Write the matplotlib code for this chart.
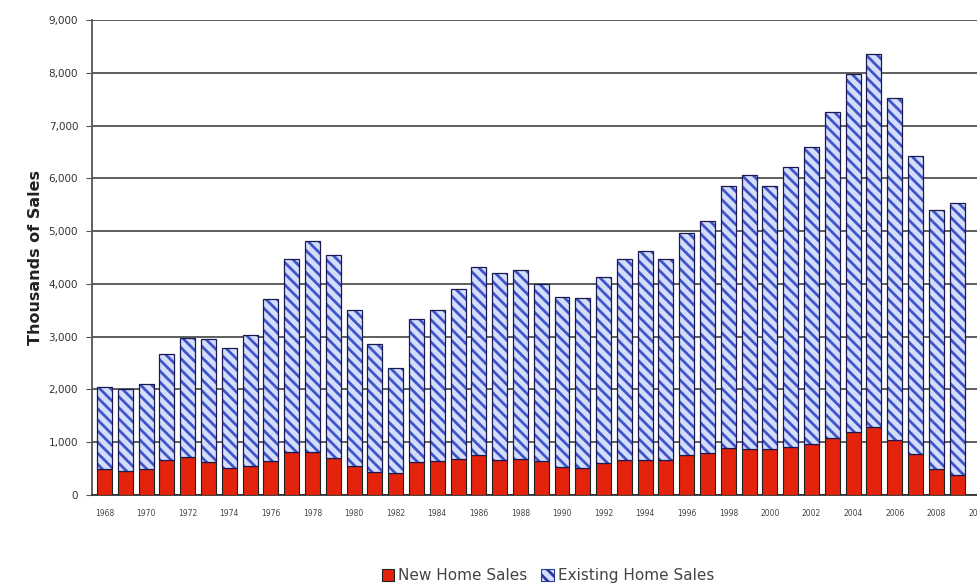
import numpy as np
import matplotlib
matplotlib.use("Agg")
import matplotlib.pyplot as plt
from matplotlib.patches import Patch

years = list(range(1968, 2010))
new_sales = [490, 448, 485, 656, 718, 634, 519, 549, 646, 819,
             817, 709, 545, 436, 412, 623, 639, 688, 750, 671,
             676, 650, 534, 509, 610, 666, 670, 667, 757, 804,
             886, 880, 877, 908, 973, 1086, 1203, 1283, 1051, 776,
             485, 375]
existing_sales = [1560, 1570, 1610, 2020, 2250, 2330, 2270, 2480, 3060, 3650,
                  3990, 3830, 2970, 2420, 1990, 2720, 2870, 3210, 3570, 3530,
                  3590, 3350, 3210, 3220, 3520, 3800, 3950, 3810, 4200, 4380,
                  4970, 5180, 4980, 5300, 5630, 6180, 6780, 7080, 6480, 5650,
                  4910, 5160]
tick_years = list(range(1968, 2011, 2))
y_ticks = list(range(0, 9001, 1000))

plt.rcParams['hatch.linewidth'] = 2.0

fig = plt.figure(figsize=(9.77, 5.87), dpi=100)
ax = fig.add_axes([0.0942, 0.1567, 0.928, 0.8092])

ax.bar(years, new_sales, width=0.72, color='#e3230c', edgecolor='#222222',
       linewidth=0.8, zorder=3)
# hatch layer: edge colour drives the stripe colour, outline drawn separately
ax.bar(years, existing_sales, width=0.72, bottom=new_sales, facecolor='#d4defc',
       edgecolor='#3f55c8', linewidth=0, hatch='\\\\\\', zorder=3)
ax.bar(years, existing_sales, width=0.72, bottom=new_sales, facecolor='none',
       edgecolor='#1a1a50', linewidth=0.9, zorder=4)

ax.set_xlim(1967.4, 2011.0)
ax.set_ylim(0, 9000)
ax.set_yticks(y_ticks)
ax.set_yticklabels([f'{v:,}' for v in y_ticks])
ax.set_xticks(tick_years)
ax.set_xticklabels([str(y) for y in tick_years])

ax.grid(axis='y', color='#333333', linewidth=1.1, zorder=0)
ax.set_axisbelow(True)
for s in ['top', 'right']:
    ax.spines[s].set_visible(False)
ax.spines['left'].set_color('#555555')
ax.spines['left'].set_linewidth(1.3)
ax.spines['bottom'].set_color('#333333')
ax.spines['bottom'].set_linewidth(1.3)

ax.tick_params(axis='y', labelsize=7.5, labelcolor='#333333', length=4,
               color='#555555', pad=6)
ax.tick_params(axis='x', labelsize=5.5, labelcolor='#444444', length=0, pad=10)

ax.set_ylabel('Thousands of Sales', fontsize=11.5, fontweight='bold',
              color='#222222', labelpad=4)

handles = [
    Patch(facecolor='#e3230c', edgecolor='#222222', linewidth=0.8, label='New Home Sales'),
    Patch(facecolor='#d4defc', edgecolor='#2a3a9a', linewidth=0.8, hatch='\\\\\\',
          label='Existing Home Sales'),
]
fig.legend(handles=handles, loc='center', bbox_to_anchor=(0.561, 0.019), ncol=2,
           frameon=False, fontsize=11, handlelength=0.8, handleheight=0.8,
           handletextpad=0.3, columnspacing=0.9, labelcolor='#444444')

fig.savefig('out.png', dpi=100)
